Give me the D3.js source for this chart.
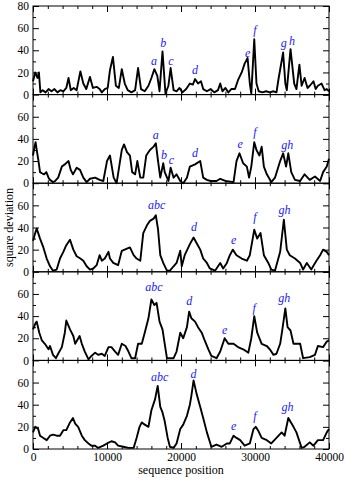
<!DOCTYPE html>
<html>
<head>
<meta charset="utf-8">
<script src="https://cdn.jsdelivr.net/npm/d3@7"></script>
<style>
  body { margin: 0; background: #fff; }
</style>
</head>
<body>
<script>
var width = 345;
var height = 478;
var serif = "'Liberation Serif', 'Times New Roman', serif";

// x positions and square deviation values
var panel1 = [[0,12],[300,20],[600,15],[800,20],[1000,2],[1300,4],[1700,2],[2100,5],[2500,3],[2900,5],[3300,2],[3700,4],[4100,3],[4500,6],[4800,15],[5100,4],[5500,6],[5900,4],[6400,21],[6800,10],[7200,5],[7700,16],[8100,6],[8600,7],[9000,5],[9300,2],[9700,5],[10100,6],[10400,22],[10800,34],[11200,8],[11600,6],[12000,23],[12400,10],[12800,4],[13300,2],[13800,4],[14200,24],[14600,5],[15100,3],[15600,8],[16000,15],[16400,23],[16800,17],[17100,3],[17500,39],[17900,1],[18300,8],[18600,24],[19000,4],[19400,3],[19800,6],[20200,2],[20700,5],[21200,10],[21600,9],[21900,14],[22300,10],[22700,12],[23000,5],[23500,3],[24000,5],[24500,2],[25000,4],[25300,10],[25600,3],[26000,6],[26400,2],[26800,5],[27300,5],[27700,13],[28200,20],[28600,28],[29000,33],[29300,10],[29500,1],[29900,50],[30200,10],[30500,3],[31000,2],[31500,3],[32000,2],[32500,3],[32900,2],[33200,15],[33800,38],[34100,10],[34300,4],[34800,41],[35300,10],[35600,5],[36000,27],[36300,8],[36700,15],[37100,6],[37400,8],[37900,12],[38200,5],[38500,8],[39000,10],[39400,4],[39700,5],[40000,3]];
var panel2 = [[0,25],[200,33],[350,37],[500,30],[700,22],[950,10],[1200,9],[1500,8],[1800,10],[2100,5],[2300,3],[2700,1],[3000,2],[3400,5],[3900,15],[4300,17],[4800,20],[5100,12],[5400,8],[5900,14],[6350,12],[6800,5],[7250,1],[7700,4],[8400,5],[9000,3],[9500,2],[10000,20],[10400,25],[10900,5],[11300,0],[12000,30],[12300,35],[12700,28],[13100,25],[13400,10],[13800,8],[14100,20],[14500,5],[14900,5],[15300,25],[15800,30],[16300,33],[16600,36],[16900,20],[17200,5],[17600,18],[17800,10],[18300,2],[18600,14],[19000,5],[19400,8],[19900,2],[20300,0],[20800,5],[21200,15],[21900,17],[22600,20],[23000,5],[23500,3],[24000,2],[24800,2],[25300,4],[26000,2],[27100,1],[27500,20],[27900,27],[28400,18],[28900,15],[29200,5],[29500,15],[29900,37],[30200,30],[30600,25],[30900,33],[31200,15],[31600,8],[32200,1],[32700,5],[33400,20],[33800,27],[34200,15],[34500,27],[34900,10],[35400,3],[36100,2],[36700,8],[37400,3],[38100,6],[38800,2],[39200,10],[39700,15],[40000,22]];
var panel3 = [[0,28],[300,35],[500,39],[950,30],[1400,22],[1850,12],[2300,5],[2700,1],[3200,2],[3650,12],[4100,18],[4500,24],[5000,29],[5450,20],[5900,14],[6400,12],[6800,10],[7250,5],[7700,2],[8150,3],[8600,6],[9000,15],[9300,10],[9700,12],[10200,18],[10400,12],[10850,8],[11500,6],[12000,19],[12700,21],[13100,22],[13600,15],[14000,12],[14500,10],[14900,35],[15400,42],[15800,46],[16300,48],[16600,51],[16900,38],[17200,15],[17600,8],[18100,1],[18500,1],[19000,5],[19400,8],[19900,19],[20100,5],[20500,15],[21200,25],[21700,31],[22100,26],[22600,20],[23000,12],[23500,8],[23900,3],[24600,1],[25300,8],[25700,3],[26200,8],[26600,15],[27000,20],[27500,15],[28200,12],[28900,10],[29300,15],[29900,38],[30300,30],[30750,35],[31200,15],[31800,8],[32200,2],[32700,1],[33400,18],[33900,47],[34300,20],[34700,15],[35400,12],[36100,8],[36500,2],[37000,8],[37600,2],[38300,10],[38800,15],[39200,20],[39700,18],[40000,15]];
var panel4 = [[0,28],[300,33],[500,35],[850,25],[1200,18],[1600,15],[2100,10],[2300,13],[2700,5],[3100,2],[3400,6],[3900,12],[4300,25],[4500,36],[5000,28],[5450,22],[5700,15],[6300,22],[6600,15],[7000,8],[7500,1],[7900,4],[8400,7],[8800,5],[9300,6],[9700,4],[10200,12],[10600,12],[11100,8],[11500,5],[12000,15],[12500,13],[12900,8],[13300,2],[13800,2],[14200,15],[14700,15],[15100,25],[15600,38],[16000,55],[16400,50],[16700,52],[17100,35],[17500,28],[17800,15],[18100,2],[18700,2],[19000,2],[19400,8],[19900,25],[20300,20],[20800,30],[21100,44],[21400,38],[21900,35],[22300,30],[22800,25],[23200,18],[23700,10],[24100,4],[24800,2],[25300,8],[25900,20],[26400,15],[27100,15],[27700,12],[28400,10],[29100,7],[29500,20],[29900,40],[30300,25],[30900,15],[31600,13],[32000,10],[32500,5],[32900,6],[33400,15],[33700,28],[34100,47],[34400,30],[34800,27],[35200,15],[35600,15],[36100,15],[36500,2],[37400,3],[38100,5],[38500,13],[39200,12],[39700,17],[40000,18]];
var panel5 = [[0,15],[300,20],[700,18],[950,12],[1400,10],[1850,8],[2300,12],[2700,13],[3200,12],[3650,12],[4100,17],[4500,17],[5000,24],[5400,28],[5700,23],[6100,20],[6600,12],[7000,8],[7500,5],[7900,3],[8400,3],[8800,1],[9500,3],[10000,5],[10600,7],[11100,6],[11500,3],[12200,2],[12900,1],[13600,1],[14000,10],[14400,20],[14700,24],[15100,22],[15600,20],[16000,35],[16500,45],[16850,57],[17200,38],[17500,33],[17800,25],[18200,10],[18500,2],[19000,1],[19400,5],[19900,18],[20300,22],[20800,30],[21200,40],[21400,48],[21700,62],[22100,50],[22600,38],[23000,28],[23500,15],[24100,2],[24800,4],[25500,2],[26200,5],[26600,5],[27100,12],[27500,10],[28000,8],[28600,3],[29300,5],[29800,18],[30100,20],[30400,17],[30900,10],[31600,8],[32200,5],[32900,10],[33600,15],[34000,12],[34500,28],[35200,20],[35600,15],[36300,1],[36700,2],[37400,6],[37900,3],[38500,8],[39200,8],[39700,15],[40000,18]];

// region labels: [text, position, value]
var labels1 = [["a",16350,27],["b",17600,43],["c",18650,27],["d",21900,19],["e",29000,34],["f",30000,55],["g",33900,43],["h",35000,45]];
var labels2 = [["a",16600,40],["b",17700,22],["c",18700,17],["d",21900,24],["e",28000,32],["f",30000,43],["gh",34350,31]];
var labels3 = [["abc",16700,57],["d",21750,37],["e",27100,25],["f",30000,46],["gh",34000,52]];
var labels4 = [["abc",16350,63],["d",21100,50],["e",25900,24],["f",29900,44],["gh",33950,53]];
var labels5 = [["abc",17100,61],["d",21700,64],["e",27100,17],["f",30000,26],["gh",34400,34]];

var panels = [panel1, panel2, panel3, panel4, panel5];
var panelLabels = [labels1, labels2, labels3, labels4, labels5];

var xTicks = [0, 10000, 20000, 30000, 40000];
var xMinor = d3.range(0, 40001, 2000);
var yTicks = [0, 20, 40, 60, 80];
var yMinor = [10, 30, 50, 70];

var left = 33, right = 329, top0 = 6, bottom0 = 449;
var ph = (bottom0 - top0) / panels.length;

var svg = d3.select("body").append("svg")
  .attr("width", width)
  .attr("height", height);

var x = d3.scaleLinear().domain([0, 40000]).range([left, right]);

panels.forEach(function(data, i) {
  var t = top0 + i * ph;
  var y = d3.scaleLinear().domain([0, 80]).range([t + ph, t]);
  var g = svg.append("g");

  var line = d3.line()
    .x(function(d) { return x(d[0]); })
    .y(function(d) { return y(d[1]); });

  g.append("path")
    .datum(data)
    .attr("d", line)
    .attr("fill", "none")
    .attr("stroke", "#000")
    .attr("stroke-width", 1.9)
    .attr("stroke-linejoin", "round");

  // inward ticks on all four sides
  var yl = i === 0 ? yTicks : yTicks.slice(0, 4);
  g.append("g").attr("transform", "translate(" + left + ",0)")
    .call(d3.axisLeft(y).tickValues(yl).tickSize(-6).tickSizeOuter(0).tickPadding(4));
  g.append("g").attr("transform", "translate(" + left + ",0)")
    .call(d3.axisLeft(y).tickValues(yMinor).tickSize(-3).tickFormat(""));
  g.append("g").attr("transform", "translate(" + right + ",0)")
    .call(d3.axisRight(y).tickValues(yTicks).tickSize(-6).tickFormat(""));
  g.append("g").attr("transform", "translate(" + right + ",0)")
    .call(d3.axisRight(y).tickValues(yMinor).tickSize(-3).tickFormat(""));

  var bx = d3.axisBottom(x).tickValues(xTicks).tickSize(-6).tickPadding(4).tickFormat(d3.format("d"));
  if (i < panels.length - 1) bx.tickFormat("");
  g.append("g").attr("transform", "translate(0," + (t + ph) + ")").call(bx);
  g.append("g").attr("transform", "translate(0," + (t + ph) + ")")
    .call(d3.axisBottom(x).tickValues(xMinor).tickSize(-3).tickFormat(""));
  g.append("g").attr("transform", "translate(0," + t + ")")
    .call(d3.axisTop(x).tickValues(xTicks).tickSize(-6).tickFormat(""));
  g.append("g").attr("transform", "translate(0," + t + ")")
    .call(d3.axisTop(x).tickValues(xMinor).tickSize(-3).tickFormat(""));

  g.append("rect")
    .attr("x", left).attr("y", t)
    .attr("width", right - left).attr("height", ph)
    .attr("fill", "none").attr("stroke", "#000").attr("stroke-width", 1);

  g.selectAll(".lab")
    .data(panelLabels[i])
    .enter()
    .append("text")
    .attr("x", function(d) { return x(d[1]); })
    .attr("y", function(d) { return y(d[2]); })
    .attr("text-anchor", "middle")
    .attr("font-family", serif)
    .attr("font-style", "italic")
    .attr("font-size", 12)
    .attr("fill", "#2020ff")
    .text(function(d) { return d[0]; });
});

svg.selectAll(".domain").remove();
svg.selectAll(".tick line").attr("stroke", "#000");
svg.selectAll(".tick text")
  .attr("font-family", serif)
  .attr("font-size", 11.5)
  .attr("fill", "#000");

svg.append("text")
  .attr("x", (left + right) / 2)
  .attr("y", 474)
  .attr("text-anchor", "middle")
  .attr("font-family", serif)
  .attr("font-size", 12)
  .text("sequence position");

svg.append("text")
  .attr("transform", "translate(13," + ((top0 + bottom0) / 2) + ") rotate(-90)")
  .attr("text-anchor", "middle")
  .attr("font-family", serif)
  .attr("font-size", 12)
  .text("square deviation");
</script>
</body>
</html>
